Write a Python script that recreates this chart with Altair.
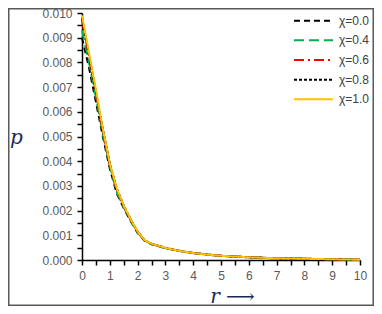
import altair as alt
import pandas as pd

r_vals = [0, 0.25, 0.5, 0.75, 1, 1.25, 1.5, 1.75, 2, 2.25, 2.5, 3, 3.5, 4, 4.5, 5, 6, 7, 8, 9, 10]

p_chi00 = [0.0090, 0.0078, 0.0064, 0.0050, 0.0037, 0.0027, 0.0021, 0.00158, 0.00110, 0.00078, 0.00064, 0.00048, 0.00037, 0.00028, 0.00022, 0.00017, 0.00011, 0.00007, 0.00005, 0.00003, 0.00001]
p_chi04 = [0.0093, 0.0080, 0.0066, 0.0051, 0.0038, 0.00275, 0.00213, 0.00160, 0.00112, 0.00079, 0.00065, 0.00048, 0.00037, 0.00028, 0.00022, 0.00017, 0.00011, 0.00007, 0.00005, 0.00003, 0.00001]
p_chi06 = [0.0097, 0.0083, 0.0068, 0.0052, 0.00385, 0.00285, 0.00218, 0.00163, 0.00114, 0.00080, 0.00066, 0.00049, 0.00037, 0.00028, 0.00022, 0.00017, 0.00011, 0.00007, 0.00005, 0.00003, 0.00001]
p_chi08 = [0.0098, 0.0083, 0.0068, 0.0053, 0.0039, 0.0029, 0.0022, 0.00164, 0.00115, 0.00080, 0.00066, 0.00049, 0.00037, 0.00028, 0.00022, 0.00017, 0.00011, 0.00007, 0.00005, 0.00003, 0.00001]
p_chi10 = [0.0099, 0.0084, 0.0069, 0.0053, 0.0039, 0.0029, 0.0022, 0.00165, 0.00115, 0.00080, 0.00066, 0.00049, 0.00037, 0.00028, 0.00022, 0.00017, 0.00011, 0.00007, 0.00005, 0.00003, 0.00001]

series_names = ["χ=0.0", "χ=0.4", "χ=0.6", "χ=0.8", "χ=1.0"]
series_vals = [p_chi00, p_chi04, p_chi06, p_chi08, p_chi10]
series_colors = ["#000000", "#00B050", "#FF0000", "#000000", "#FFC000"]
series_dash = [[6, 4], [10, 5], [10, 4, 2, 4], [3, 2], [1, 0]]

x_ticks = [i * 0.5 for i in range(21)]
y_ticks = [i * 0.0005 for i in range(21)]

rows = []
for k, (name, vals) in enumerate(zip(series_names, series_vals)):
    for rv, pv in zip(r_vals, vals):
        rows.append({"r": rv, "p": pv, "series": name, "order": k})
df = pd.DataFrame(rows)
df_leg = pd.DataFrame({"series": series_names, "order": list(range(len(series_names)))})

W, H = 278, 247
PL, PT, PR, PB = 74, 5, 14, 46

color_scale = alt.Scale(domain=series_names, range=series_colors)
dash_scale = alt.Scale(domain=series_names, range=series_dash)

lines = alt.Chart(df).mark_line(strokeWidth=2).encode(
    x=alt.X("r:Q", scale=alt.Scale(domain=[0, 10], nice=False),
            axis=alt.Axis(values=x_ticks,
                          labelExpr="round(datum.value*2) % 2 == 0 ? format(datum.value, 'd') : ''",
                          labelOverlap=False, labelFlush=False,
                          title="r ⟶", titleX=150, titleY=36, titleFontSize=20,
                          titleFont="DejaVu Serif", titleFontStyle="italic",
                          titleFontWeight="normal", titleColor="#1c2a5a",
                          titleBaseline="middle")),
    y=alt.Y("p:Q", scale=alt.Scale(domain=[0, 0.010], nice=False),
            axis=alt.Axis(values=y_ticks,
                          labelExpr="round(datum.value*2000) % 2 == 0 ? format(datum.value, '.3f') : ''",
                          labelOverlap=False, labelFlush=False,
                          title="p", titleAngle=0, titleX=-66, titleY=124,
                          titleFontSize=20, titleFont="DejaVu Serif",
                          titleFontStyle="italic", titleFontWeight="normal",
                          titleColor="#1c2a5a", titleBaseline="middle",
                          titleAlign="center")),
    color=alt.Color("series:N", scale=color_scale, legend=None),
    strokeDash=alt.StrokeDash("series:N", scale=dash_scale, legend=None),
    order=alt.Order("order:Q"),
)

leg_y = alt.Y("series:N", scale=alt.Scale(type="point", domain=series_names,
                                          range=[7.7, 86.3], padding=0), axis=None)

leg_lines = alt.Chart(df_leg).mark_rule(strokeWidth=2).encode(
    x=alt.value(212), x2=alt.value(251), y=leg_y,
    color=alt.Color("series:N", scale=color_scale, legend=None),
    strokeDash=alt.StrokeDash("series:N", scale=dash_scale, legend=None),
)

leg_text = alt.Chart(df_leg).mark_text(
    align="left", baseline="middle", fontSize=12, font="Liberation Sans", color="#404040"
).encode(x=alt.value(257), y=leg_y, text="series:N")

frame = alt.Chart(pd.DataFrame({"a": [0]})).mark_rect(
    fill=None, stroke="#595959", strokeWidth=1.5
).encode(
    x=alt.value(-PL + 0.75), x2=alt.value(W + PR - 0.75),
    y=alt.value(-PT + 0.75), y2=alt.value(H + PB - 0.75),
)

chart = alt.layer(frame, lines, leg_lines, leg_text).resolve_scale(
    y="independent"
).properties(
    width=W, height=H,
    autosize=alt.AutoSizeParams(type="none"),
    padding={"left": PL, "top": PT, "right": PR, "bottom": PB},
).configure_view(stroke=None).configure_axis(
    grid=False, domainColor="#000000", domainWidth=1.5, tickColor="#000000",
    tickWidth=1.5, tickSize=5, labelColor="#595959", labelFontSize=12,
    labelFont="Liberation Sans", labelPadding=5,
)

chart.save("out.html", embed_options={"renderer": "svg", "actions": False})
